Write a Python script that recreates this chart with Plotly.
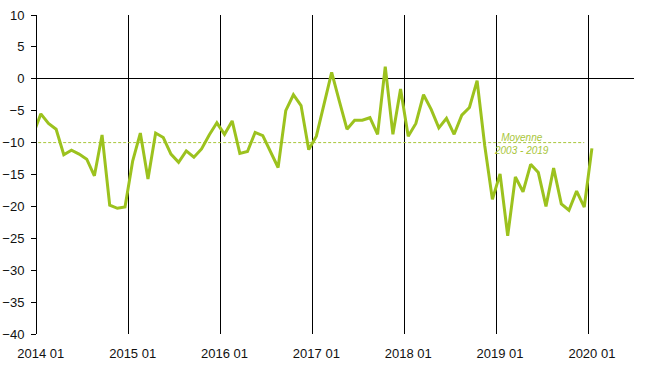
import plotly.graph_objects as go

# Month categories: the first one (2013 12) lies just left of the visible range (line is clipped at the axis)
months = ["2013 12"] + [f"{y} {m:02d}" for y in range(2014, 2020) for m in range(1, 13)] + ["2020 01"]

values = [
    -8.7,
    -5.5, -7.0, -7.9, -11.9, -11.2, -11.8, -12.6, -15.2, -8.8, -19.8, -20.3, -20.1,
    -12.9, -8.5, -15.7, -8.5, -9.2, -11.8, -13.1, -11.3, -12.3, -11.0, -8.8, -6.9,
    -8.7, -6.6, -11.7, -11.4, -8.4, -8.9, -11.3, -13.9, -5.0, -2.5, -4.2, -11.1,
    -9.0, -4.0, 1.0, -3.5, -7.9, -6.5, -6.5, -6.1, -8.7, 1.9, -8.7, -1.6,
    -9.0, -7.0, -2.5, -4.8, -7.7, -6.2, -8.7, -5.7, -4.5, -0.3, -10.5, -18.9,
    -14.9, -24.6, -15.4, -17.7, -13.4, -14.7, -20.0, -14.0, -19.6, -20.6, -17.6, -20.1,
    -10.9,
]

average_value = -10
average_months = months[:-1]  # average line runs through 2019 12

tick_labels = [f"{y} 01" for y in range(2014, 2021)]
y_ticks = [10, 5, 0, -5, -10, -15, -20, -25, -30, -35, -40]

# category slot positions: each month sits in the middle of its slot, slot boundaries on integers
pos = {m: i - 0.5 for i, m in enumerate(months)}
x_vals = [pos[m] for m in months]
x_avg = [pos[m] for m in average_months]
tick_pos = [pos[t] for t in tick_labels]
grid_pos = [p - 0.5 for p in tick_pos]

green = "#9cc21e"
light_green = "#a9c63a"
font_family = "Liberation Sans, Arial"

fig = go.Figure()
fig.add_trace(go.Scatter(
    x=x_avg, y=[average_value] * len(x_avg), mode="lines",
    line=dict(color=light_green, width=1, dash="3px,2px"),
    hoverinfo="skip", showlegend=False,
))
fig.add_trace(go.Scatter(
    x=x_vals, y=values, mode="lines",
    line=dict(color=green, width=3),
    text=months, hovertemplate="%{text}: %{y}<extra></extra>",
    showlegend=False,
))

fig.update_xaxes(
    range=[0, 78],
    tickmode="array", tickvals=tick_pos, ticktext=tick_labels, tickangle=0,
    showgrid=False, ticks="", showline=False, zeroline=False,
    minor=dict(tickmode="array", tickvals=grid_pos, showgrid=True,
               gridcolor="black", gridwidth=1, ticks=""),
    tickfont=dict(family=font_family, size=13, color="#111"),
    ticklabelstandoff=10,
    automargin=False,
)
fig.update_yaxes(
    range=[-40, 10],
    tickmode="array", tickvals=y_ticks,
    showgrid=False,
    zeroline=True, zerolinecolor="black", zerolinewidth=1,
    showline=True, linecolor="black", linewidth=1,
    ticks="outside", ticklen=5, tickcolor="black", tickwidth=1,
    tickfont=dict(family=font_family, size=13, color="#111"),
    ticklabelstandoff=4,
    automargin=False,
)

fig.add_annotation(
    xref="x", yref="y",
    x=pos["2019 01"] + 2.8, y=-10.2,
    text="<i>Moyenne</i><br><i>2003 - 2019</i>",
    showarrow=False, xanchor="center", yanchor="middle",
    font=dict(family=font_family, size=10, color=light_green),
)

fig.update_layout(
    width=662, height=378,
    margin=dict(l=37, r=28, t=15, b=44, autoexpand=False),
    paper_bgcolor="white", plot_bgcolor="white",
)

fig.write_html(
    "out.html",
    config={"displayModeBar": False},
    post_script="document.body.style.margin='0';",
)
